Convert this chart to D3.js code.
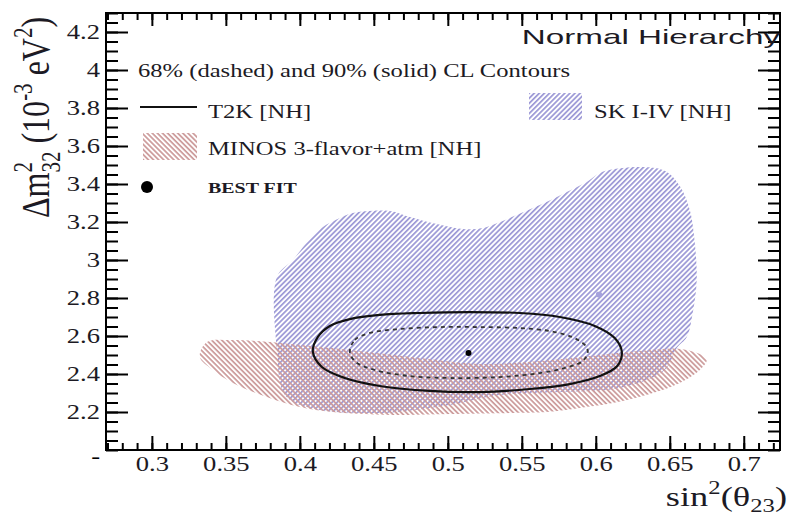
<!DOCTYPE html>
<html>
<head>
<meta charset="utf-8">
<script src="https://cdn.jsdelivr.net/npm/d3@7"></script>
<style>
  body { margin: 0; background: #fff; }
</style>
</head>
<body>
<div id="chart"></div>
<script>
// Contours: [sin^2(theta23), dm2_32 (1e-3 eV^2)]
const skRegion = [
  [0.3845, 2.911], [0.3953, 3.000], [0.4088, 3.132], [0.4155, 3.174], [0.4270, 3.221],
  [0.4358, 3.247], [0.4608, 3.258], [0.4743, 3.226], [0.4926, 3.189], [0.5101, 3.163],
  [0.5236, 3.168], [0.5351, 3.200], [0.5622, 3.289], [0.5804, 3.358], [0.5939, 3.411],
  [0.6061, 3.468], [0.6453, 3.474], [0.6568, 3.389], [0.6635, 3.263], [0.6662, 3.142],
  [0.6682, 2.895], [0.6655, 2.721], [0.6615, 2.595], [0.6547, 2.537], [0.6466, 2.421],
  [0.6162, 2.326], [0.5757, 2.305], [0.5351, 2.289], [0.5014, 2.237], [0.4541, 2.195],
  [0.4068, 2.221], [0.3899, 2.289], [0.3845, 2.526]
]
const skIsland = [[0.6005, 2.830], [0.6040, 2.828], [0.6040, 2.805], [0.6005, 2.805]]
const minosRegion = [
  [0.3324, 2.489], [0.3372, 2.568], [0.3547, 2.579], [0.3865, 2.563], [0.4338, 2.526],
  [0.4811, 2.484], [0.5216, 2.453], [0.5622, 2.468], [0.6027, 2.500], [0.6365, 2.526],
  [0.6568, 2.532], [0.6703, 2.505], [0.6750, 2.474], [0.6703, 2.421], [0.6568, 2.353],
  [0.6385, 2.300], [0.6115, 2.247], [0.5892, 2.221], [0.5669, 2.200], [0.5439, 2.195],
  [0.5014, 2.189], [0.4676, 2.184], [0.4223, 2.200], [0.4000, 2.226], [0.3777, 2.279],
  [0.3547, 2.353], [0.3412, 2.421]
]
const t2k90 = [
  [0.4088, 2.516], [0.4122, 2.595], [0.4203, 2.653], [0.4338, 2.689], [0.4541, 2.711],
  [0.4811, 2.721], [0.5149, 2.726], [0.5486, 2.721], [0.5757, 2.700], [0.5993, 2.653],
  [0.6128, 2.589], [0.6176, 2.516], [0.6145, 2.442], [0.6027, 2.389], [0.5824, 2.347],
  [0.5554, 2.321], [0.5216, 2.305], [0.4878, 2.311], [0.4541, 2.337], [0.4304, 2.379],
  [0.4149, 2.437]
]
const t2k68 = [
  [0.4338, 2.516], [0.4372, 2.579], [0.4473, 2.616], [0.4676, 2.637], [0.4946, 2.647],
  [0.5216, 2.647], [0.5486, 2.642], [0.5689, 2.626], [0.5838, 2.595], [0.5926, 2.553],
  [0.5946, 2.516], [0.5912, 2.468], [0.5791, 2.432], [0.5622, 2.405], [0.5351, 2.384],
  [0.5014, 2.379], [0.4743, 2.389], [0.4507, 2.421], [0.4378, 2.463]
]
const bestFit = [0.514, 2.511]

const xTicks = [0.3, 0.35, 0.4, 0.45, 0.5, 0.55, 0.6, 0.65, 0.7]
const yTicks = [2.2, 2.4, 2.6, 2.8, 3, 3.2, 3.4, 3.6, 3.8, 4, 4.2]
const xMinor = d3.range(27, 73).map(d => d / 100)
const yMinor = d3.range(40, 87).map(d => d / 20)

const headerText = "68% (dashed) and 90% (solid) CL Contours"
const t2kLabel = "T2K [NH]"
const minosLabel = "MINOS 3-flavor+atm [NH]"
const skLabel = "SK I-IV [NH]"
const bestFitLabel = "BEST FIT"
const titleText = "Normal Hierarchy"

const width = 791
const height = 515
const marginTop = 13
const marginRight = 11
const marginBottom = 65
const marginLeft = 106
const serif = "'Liberation Serif', 'Times New Roman', serif"
const stretch = 1.33   // the picture is squeezed wider than tall

const x = d3.scaleLinear()
  .domain([0.269, 0.7245])
  .range([marginLeft, width - marginRight])
const y = d3.scaleLinear()
  .domain([2.0, 4.3])
  .range([height - marginBottom, marginTop])

const svg = d3.select("#chart")
  .append("svg")
  .attr("width", width)
  .attr("height", height)

// hatch patterns
const defs = svg.append("defs")
function hatch(id, color, angle) {
  defs.append("pattern")
    .attr("id", id)
    .attr("patternUnits", "userSpaceOnUse")
    .attr("width", 3.6).attr("height", 3.6)
    .attr("patternTransform", `rotate(${angle})`)
    .append("rect")
    .attr("width", 3.6).attr("height", 1.7)
    .attr("fill", color)
}
hatch("skHatch", "#9c98d6", -45)
hatch("minosHatch", "#cc9a9a", 45)

const contour = d3.line()
  .x(d => x(d[0]))
  .y(d => y(d[1]))
  .curve(d3.curveCatmullRomClosed.alpha(0.5))

svg.append("path").datum(skRegion)
  .attr("d", contour).attr("fill", "url(#skHatch)")
svg.append("path").datum(skIsland)
  .attr("d", contour).attr("fill", "#a6a2dc")
svg.append("path").datum(minosRegion)
  .attr("d", contour).attr("fill", "url(#minosHatch)")

svg.append("path").datum(t2k68)
  .attr("d", contour)
  .attr("fill", "none")
  .attr("stroke", "#333")
  .attr("stroke-width", 1.8)
  .attr("stroke-dasharray", "4,4")
svg.append("path").datum(t2k90)
  .attr("d", contour)
  .attr("fill", "none")
  .attr("stroke", "#111")
  .attr("stroke-width", 2.2)
svg.append("circle")
  .attr("cx", x(bestFit[0])).attr("cy", y(bestFit[1]))
  .attr("r", 3).attr("fill", "#000")

// axes: ticks inward on all four sides
function styleAxis(g) {
  g.select(".domain").remove()
  g.selectAll("line").attr("stroke", "#000").attr("stroke-width", 2)
}
const gBottom = svg.append("g").attr("transform", `translate(0,${height - marginBottom})`)
gBottom.append("g").call(d3.axisBottom(x).tickValues(xMinor).tickSize(-7).tickFormat("")).call(styleAxis)
gBottom.append("g").call(d3.axisBottom(x).tickValues(xTicks).tickSize(-14).tickPadding(7).tickFormat(d3.format("~g"))).call(styleAxis)

const gTop = svg.append("g").attr("transform", `translate(0,${marginTop})`)
gTop.append("g").call(d3.axisTop(x).tickValues(xMinor).tickSize(-7).tickFormat("")).call(styleAxis)
gTop.append("g").call(d3.axisTop(x).tickValues(xTicks).tickSize(-13).tickFormat("")).call(styleAxis)

const gLeft = svg.append("g").attr("transform", `translate(${marginLeft},0)`)
gLeft.append("g").call(d3.axisLeft(y).tickValues(yMinor).tickSize(-12).tickFormat("")).call(styleAxis)
gLeft.append("g").call(d3.axisLeft(y).tickValues(yTicks).tickSize(-22).tickPadding(4.5).tickFormat(d3.format("~g"))).call(styleAxis)

const gRight = svg.append("g").attr("transform", `translate(${width - marginRight},0)`)
gRight.append("g").call(d3.axisRight(y).tickValues(yMinor).tickSize(-12).tickFormat("")).call(styleAxis)
gRight.append("g").call(d3.axisRight(y).tickValues(yTicks).tickSize(-22).tickFormat("")).call(styleAxis)

svg.selectAll(".tick text")
  .attr("font-family", serif)
  .attr("font-size", 20)
  .attr("fill", "#1c1a24")
  .attr("transform", `scale(${stretch},1)`)

// stray dash under the lowest y label
svg.append("g")
  .attr("transform", `translate(100,${y(2.0) + 13}) scale(${stretch},1)`)
  .append("text")
  .attr("text-anchor", "end")
  .attr("font-family", serif)
  .attr("font-size", 20)
  .text("-")

svg.append("rect")
  .attr("x", marginLeft).attr("y", marginTop)
  .attr("width", width - marginLeft - marginRight)
  .attr("height", height - marginTop - marginBottom)
  .attr("fill", "none").attr("stroke", "#000").attr("stroke-width", 2)

// text helper: stretched horizontally like the picture
function label(px, py, k, anchor) {
  return svg.append("g")
    .attr("transform", `translate(${px},${py}) scale(${k},1)`)
    .append("text")
    .attr("text-anchor", anchor)
    .attr("font-family", serif)
    .attr("fill", "#1c1a24")
}

label(780, 44, 1.66, "end")
  .attr("font-family", "'Liberation Sans', Arial, sans-serif")
  .attr("font-size", 20)
  .text(titleText)

label(138, 77, stretch, "start").attr("font-size", 18.5).text(headerText)

svg.append("line")
  .attr("x1", 140).attr("x2", 197).attr("y1", 107).attr("y2", 107)
  .attr("stroke", "#111").attr("stroke-width", 2)
label(208, 118, stretch, "start").attr("font-size", 18.5).text(t2kLabel)

svg.append("rect")
  .attr("x", 143).attr("y", 133).attr("width", 54).attr("height", 27)
  .attr("fill", "url(#minosHatch)")
label(208, 155, stretch, "start").attr("font-size", 18.5).text(minosLabel)

svg.append("rect")
  .attr("x", 529).attr("y", 93).attr("width", 53).attr("height", 27)
  .attr("fill", "url(#skHatch)")
label(594, 118, stretch, "start").attr("font-size", 18.5).text(skLabel)

svg.append("circle").attr("cx", 147).attr("cy", 187).attr("r", 6).attr("fill", "#000")
label(208, 193, stretch, "start")
  .attr("font-size", 15).attr("font-weight", "bold")
  .text(bestFitLabel)

// x axis title
const xt = label(787, 506, 1.3, "end").attr("font-size", 28)
xt.append("tspan").text("sin")
xt.append("tspan").attr("font-size", 19).attr("dy", -12).text("2")
xt.append("tspan").attr("dy", 12).text("(θ")
xt.append("tspan").attr("font-size", 19).attr("dy", 6).text("23")
xt.append("tspan").attr("dy", -6).text(")")

// y axis title, rotated
const yt = svg.append("g")
  .attr("transform", `translate(49,218) scale(1.25,1) rotate(-90)`)
  .append("text")
  .attr("font-family", serif)
  .attr("font-size", 32)
  .attr("fill", "#1c1a24")
yt.append("tspan").text("Δm")
yt.append("tspan").attr("font-size", 21).attr("dy", -14).text("2")
yt.append("tspan").attr("font-size", 21).attr("dx", -10.5).attr("dy", 23).text("32")
yt.append("tspan").attr("dy", -9).text(" (10")
yt.append("tspan").attr("font-size", 21).attr("dy", -14).text("-3")
yt.append("tspan").attr("dy", 14).text(" eV")
yt.append("tspan").attr("font-size", 21).attr("dy", -14).text("2")
yt.append("tspan").attr("dy", 14).text(")")
</script>
</body>
</html>
